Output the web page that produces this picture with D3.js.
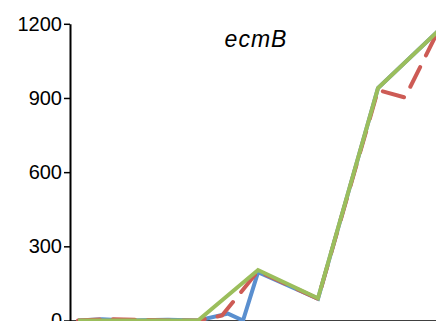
<!DOCTYPE html>
<html>
<head>
<meta charset="utf-8">
<script src="https://cdn.jsdelivr.net/npm/d3@7"></script>
<style>
  html, body { margin: 0; padding: 0; background: #fff; }
  svg { display: block; }
</style>
</head>
<body>
<svg id="chart" width="436" height="321"></svg>
<script>
// Expression of ecmB over time (hours), three replicates / conditions
const yTicks = [0, 300, 600, 900, 1200];
const title = "ecmB";

const blueHours  = [0, 0.4, 0.8, 1.5, 2, 2.5, 2.75, 3, 4, 5, 6];
const blueValues = [0, 5, 0, 3, 0, 28, 0, 195, 88, 940, 1170];

const redHours  = [0, 0.5, 1, 1.5, 2, 2.4, 3, 4, 5, 5.45, 6];
const redValues = [0, 6, 3, 0, 0, 20, 200, 88, 932, 902, 1170];

const greenHours  = [0, 1, 2, 3, 4, 5, 6];
const greenValues = [0, 0, 0, 204, 90, 940, 1170];

const svg = d3.select("#chart");

const x = d3.scaleLinear().domain([0, 6]).range([78, 438]);
const y = d3.scaleLinear().domain([0, 1200]).range([320.5, 23.8]);

const line = d3.line().x(d => x(d[0])).y(d => y(d[1]));

// x axis baseline
svg.append("line")
  .attr("x1", 70).attr("x2", 436)
  .attr("y1", y(0)).attr("y2", y(0))
  .attr("stroke", "#404040").attr("stroke-width", 1.2);

const series = [
  { hours: blueHours,  values: blueValues,  color: "#5A8FCF", dash: null },
  { hours: redHours,   values: redValues,   color: "#CD5B55", dash: "22,13" },
  { hours: greenHours, values: greenValues, color: "#9BBE5C", dash: null }
];

series.forEach(s => {
  svg.append("path")
    .datum(s.hours.map((h, i) => [h, s.values[i]]))
    .attr("d", line)
    .attr("fill", "none")
    .attr("stroke", s.color)
    .attr("stroke-width", 4)
    .attr("stroke-linejoin", "miter")
    .attr("stroke-linecap", s.dash ? "round" : "butt")
    .attr("stroke-dasharray", s.dash);
});

// y axis
const yAxis = d3.axisLeft(y)
  .tickValues(yTicks)
  .tickSize(6)
  .tickSizeOuter(0)
  .tickPadding(2)
  .tickFormat(d3.format("d"));

const gy = svg.append("g")
  .attr("transform", "translate(70,0)")
  .call(yAxis);

gy.select(".domain").attr("stroke", "#000").attr("stroke-width", 2);
gy.selectAll(".tick line").attr("stroke", "#000").attr("stroke-width", 1.5);
gy.selectAll(".tick text")
  .attr("fill", "#000")
  .style("font-family", "'Liberation Sans', Arial, sans-serif")
  .style("font-size", "20px");

// chart title
svg.append("text")
  .attr("x", 256).attr("y", 47)
  .attr("text-anchor", "middle")
  .style("font-family", "'Liberation Sans', Arial, sans-serif")
  .style("font-size", "23px")
  .style("letter-spacing", "1px")
  .style("font-style", "italic")
  .text(title);
</script>
</body>
</html>
